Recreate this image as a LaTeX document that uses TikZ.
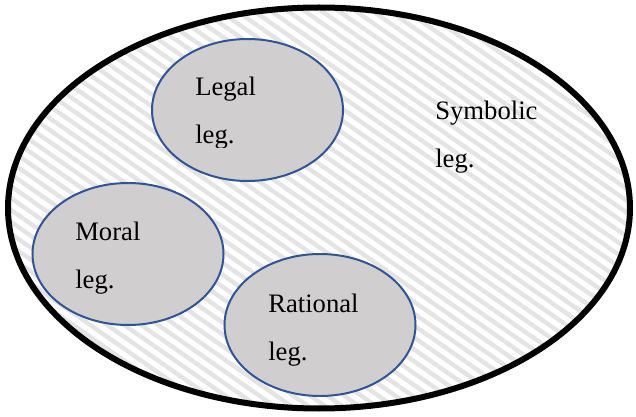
\documentclass[tikz,border=0pt]{standalone}
\usepackage{fontspec}
\setmainfont{Liberation Serif}
\usetikzlibrary{shapes.geometric}

\definecolor{legblue}{HTML}{2F5597}
\definecolor{leggray}{HTML}{D0CECE}
\definecolor{hatchgray}{HTML}{E4E4E4}

\tikzset{
  legitimacy/.style={ellipse, draw=legblue, line width=1.5pt, fill=leggray,
    minimum width=143.25pt, minimum height=106.5pt, inner sep=0pt},
  legtext/.style={anchor=base west, align=left, inner sep=0pt,
    font=\fontsize{20}{36}\selectfont}
}

\begin{document}
\begin{tikzpicture}[x=0.75pt, y=-0.75pt]
            \useasboundingbox (0,0) rectangle (636,417);

            % Elipse exterior
            \node[ellipse, minimum width=466.5pt, minimum height=300.75pt, inner sep=0pt] (symbolic) at (319,208) {};

            % Rayado
            \begin{scope}
              \clip (319,208) ellipse (311 and 200.5);
              \foreach \i in {-680,-663,...,660}
                \draw[hatchgray, line width=3.3pt] (\i,0) -- ({\i+600},420);
            \end{scope}
            \draw[black, line width=4.5pt] (symbolic.center) ellipse (311 and 200.5);

            % Elipses interiores
            \node[legitimacy] (legal) at (247.5,110) {};
            \node[legitimacy] (moral) at (128,254) {};
            \node[legitimacy] (rational) at (320,325) {};

            % Textos (base = segunda linea)
            \begin{scope}
              \clip (150,60) rectangle (345,148);
              \node[legtext] (legaltext) at ([shift={(-52.5,34)}]legal.center) {Legal\\leg.};
            \end{scope}
            \node[legtext] (moraltext) at ([shift={(-53,35)}]moral.center) {Moral\\leg.};
            \node[legtext] (rationaltext) at ([shift={(-52,35)}]rational.center) {Rational\\leg.};
            \node[legtext] (symbolictext) at ([shift={(116,-40)}]symbolic.center) {Symbolic\\leg.};
        \end{tikzpicture}
\end{document}
